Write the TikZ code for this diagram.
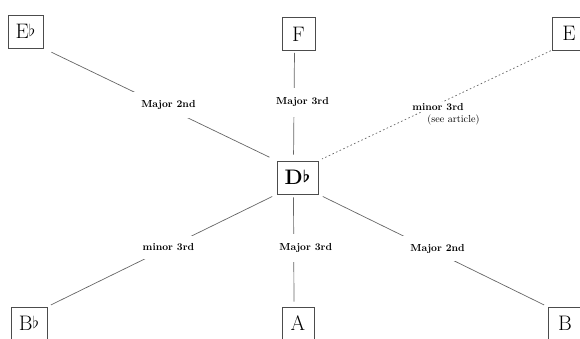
\documentclass[tikz,border=0pt]{standalone}
\usepackage{graphicx}
% raised flat sign after a note letter
\newcommand{\flatsign}{\raisebox{.12em}{\scalebox{.8}{$\flat$}}}
\newcommand{\boldflatsign}{\raisebox{.12em}{\scalebox{.8}{\boldmath$\flat$}}}
\begin{document}
\begin{tikzpicture}[x=1pt,y=1pt,
  note/.style={draw=black!70, line width=0.6pt, minimum height=33pt,
    minimum width=33pt, inner sep=0pt, font=\fontsize{21}{25}\selectfont},
  link/.style={draw=black!60, line width=0.7pt},
  dotlink/.style={draw=black!60, line width=0.7pt, dash pattern=on 1.6pt off 2.4pt},
  lab/.style={fill=white, font=\bfseries\fontsize{10.2}{12}\selectfont, inner sep=8pt},
  vlab/.style={lab, inner ysep=9.5pt},
  smalllab/.style={fill=white, font=\fontsize{10.2}{12}\selectfont, inner sep=1.5pt}]
\useasboundingbox (0,0) rectangle (580,339);

% the notes
\node[note, minimum width=35pt] (Eb) at (25.5,307.5) {E\flatsign};
\node[note] (F) at (298.5,305) {F};
\node[note, minimum width=34pt] (E) at (569,305.5) {E};
\node[note, minimum width=41pt, font=\bfseries\fontsize{21}{25}\selectfont] (Db) at (297.5,161.5) {D\boldflatsign};
\node[note, minimum width=36pt] (Bb) at (29,15.5) {B\flatsign};
\node[note, minimum width=32pt] (A) at (298,15.5) {A};
\node[note, minimum width=34pt] (B) at (565,15.5) {B};

% intervals from D flat
\draw[link, shorten <=9pt, shorten >=8pt] (Eb.south east) --
  node[lab, pos=0.536, yshift=3.5pt] {Major 2nd} (Db.north west);
\draw[link, shorten <=2pt, shorten >=6pt] ([xshift=-4pt]F.south) --
  node[vlab, pos=0.47, xshift=8.5pt] {Major 3rd} ([xshift=-4pt]Db.north);
\draw[dotlink, shorten <=1pt, shorten >=4pt] (E.south west) -- (Db.north east);
\node[smalllab, font=\bfseries\fontsize{10.2}{12}\selectfont] (m3a) at (438,232) {minor 3rd};
\node[smalllab] (see) at (453.5,219) {(see article)};
\draw[link, shorten <=5pt, shorten >=4pt] (Db.south west) --
  node[lab, pos=0.472] {minor 3rd} (Bb.north east);
\draw[link, shorten <=3pt, shorten >=5pt] ([xshift=-4pt]Db.south) --
  node[vlab, pos=0.48, xshift=12pt] {Major 3rd} ([xshift=-4pt]A.north);
\draw[link, shorten <=5pt, shorten >=4pt] (Db.south east) --
  node[lab, pos=0.52, yshift=4pt] {Major 2nd} (B.north west);
\end{tikzpicture}
\end{document}
